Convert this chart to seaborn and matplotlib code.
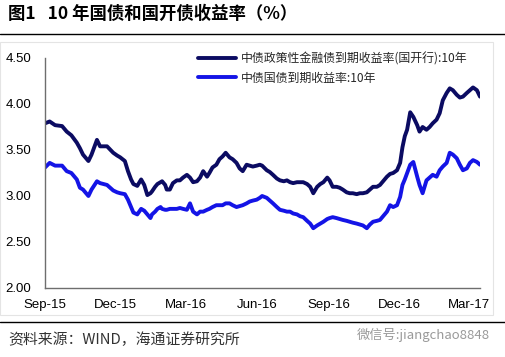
import matplotlib
matplotlib.use("Agg")
import matplotlib.pyplot as plt
from matplotlib.lines import Line2D
from matplotlib.patches import Rectangle
import seaborn as sns
import pandas as pd

dates = [
    "2015-09-01", "2015-09-07", "2015-09-14", "2015-09-23", "2015-09-29", "2015-10-05",
    "2015-10-12", "2015-10-16", "2015-10-20", "2015-10-27", "2015-10-31", "2015-11-07",
    "2015-11-11", "2015-11-20", "2015-11-28", "2015-12-03", "2015-12-07", "2015-12-13",
    "2015-12-17", "2015-12-21", "2015-12-24", "2015-12-29", "2016-01-03", "2016-01-07",
    "2016-01-11", "2016-01-15", "2016-01-17", "2016-01-21", "2016-01-24", "2016-01-28",
    "2016-01-30", "2016-02-03", "2016-02-05", "2016-02-09", "2016-02-13", "2016-02-18",
    "2016-02-22", "2016-02-26", "2016-03-02", "2016-03-06", "2016-03-10", "2016-03-15",
    "2016-03-19", "2016-03-23", "2016-03-28", "2016-03-31", "2016-04-04", "2016-04-09",
    "2016-04-13", "2016-04-17", "2016-04-21", "2016-04-26", "2016-04-30", "2016-05-05",
    "2016-05-09", "2016-05-13", "2016-05-18", "2016-05-22", "2016-05-26", "2016-05-31",
    "2016-06-04", "2016-06-07", "2016-06-13", "2016-06-17", "2016-06-21", "2016-06-26",
    "2016-06-30", "2016-07-05", "2016-07-09", "2016-07-13", "2016-07-17", "2016-07-22",
    "2016-07-26", "2016-07-30", "2016-08-04", "2016-08-08", "2016-08-12", "2016-08-17",
    "2016-08-21", "2016-08-25", "2016-08-30", "2016-09-02", "2016-09-06", "2016-09-11",
    "2016-09-15", "2016-09-19", "2016-09-24", "2016-09-28", "2016-10-02", "2016-10-07",
    "2016-10-11", "2016-10-15", "2016-10-20", "2016-10-24", "2016-10-28", "2016-11-02",
    "2016-11-06", "2016-11-10", "2016-11-15", "2016-11-19", "2016-11-23", "2016-11-28",
    "2016-12-02", "2016-12-05", "2016-12-08", "2016-12-11", "2016-12-15", "2016-12-19",
    "2016-12-24", "2016-12-27", "2016-12-31", "2017-01-05", "2017-01-09", "2017-01-13",
    "2017-01-18", "2017-01-22", "2017-01-26", "2017-01-31", "2017-02-04", "2017-02-08",
    "2017-02-13", "2017-02-17", "2017-02-21", "2017-02-26", "2017-03-02", "2017-03-06",
    "2017-03-11", "2017-03-15",
]

cdb_10y = [
    3.79, 3.81, 3.77, 3.76, 3.70, 3.66, 3.58, 3.52, 3.45, 3.38, 3.45, 3.61,
    3.54, 3.54, 3.47, 3.44, 3.42, 3.38, 3.27, 3.18, 3.13, 3.11, 3.18, 3.12,
    3.01, 3.03, 3.05, 3.10, 3.13, 3.15, 3.16, 3.12, 3.07, 3.07, 3.14, 3.17,
    3.17, 3.20, 3.23, 3.20, 3.15, 3.16, 3.20, 3.27, 3.21, 3.25, 3.31, 3.34,
    3.40, 3.43, 3.47, 3.42, 3.40, 3.36, 3.30, 3.27, 3.34, 3.33, 3.32, 3.33,
    3.34, 3.33, 3.28, 3.26, 3.23, 3.19, 3.17, 3.16, 3.17, 3.15, 3.14, 3.15,
    3.15, 3.15, 3.13, 3.10, 3.03, 3.10, 3.13, 3.15, 3.20, 3.17, 3.10, 3.10,
    3.09, 3.07, 3.04, 3.03, 3.03, 3.02, 3.03, 3.03, 3.04, 3.07, 3.10, 3.10,
    3.12, 3.16, 3.21, 3.24, 3.25, 3.28, 3.36, 3.53, 3.65, 3.72, 3.91, 3.86,
    3.77, 3.70, 3.75, 3.72, 3.75, 3.79, 3.83, 3.90, 4.04, 4.12, 4.17, 4.15,
    4.10, 4.07, 4.08, 4.12, 4.15, 4.18, 4.15, 4.08,
]

cgb_10y = [
    3.31, 3.36, 3.33, 3.33, 3.27, 3.25, 3.18, 3.09, 3.07, 3.00, 3.07, 3.16,
    3.14, 3.12, 3.06, 3.04, 3.03, 3.02, 2.96, 2.88, 2.82, 2.80, 2.86, 2.84,
    2.80, 2.76, 2.80, 2.83, 2.86, 2.88, 2.86, 2.85, 2.85, 2.86, 2.86, 2.86,
    2.87, 2.86, 2.85, 2.92, 2.83, 2.80, 2.83, 2.83, 2.85, 2.86, 2.88, 2.90,
    2.90, 2.90, 2.92, 2.92, 2.90, 2.88, 2.89, 2.90, 2.92, 2.94, 2.95, 2.96,
    2.98, 3.00, 2.98, 2.95, 2.92, 2.88, 2.85, 2.84, 2.83, 2.83, 2.81, 2.80,
    2.78, 2.77, 2.73, 2.70, 2.65, 2.68, 2.70, 2.72, 2.75, 2.76, 2.77, 2.76,
    2.75, 2.74, 2.73, 2.72, 2.71, 2.70, 2.69, 2.68, 2.65, 2.69, 2.72, 2.73,
    2.74, 2.78, 2.83, 2.90, 2.88, 2.90, 2.99, 3.12, 3.18, 3.25, 3.34, 3.37,
    3.21, 3.12, 3.03, 3.17, 3.20, 3.23, 3.21, 3.28, 3.32, 3.36, 3.47, 3.45,
    3.41, 3.34, 3.28, 3.30, 3.36, 3.39, 3.37, 3.34,
]

series_names = ["中债政策性金融债到期收益率(国开行):10年", "中债国债到期收益率:10年"]
series_colors = ["#0b0b62", "#1414e6"]
y_ticks = [2.00, 2.50, 3.00, 3.50, 4.00, 4.50]
x_ticks = ["2015-09-01", "2015-12-01", "2016-03-01", "2016-06-01",
           "2016-09-01", "2016-12-01", "2017-03-01"]
x_tick_labels = ["Sep-15", "Dec-15", "Mar-16", "Jun-16", "Sep-16", "Dec-16", "Mar-17"]

title = "图1   10 年国债和国开债收益率（%）"
source = "资料来源：WIND，海通证券研究所"
watermark = "微信号:jiangchao8848"

df = pd.DataFrame({
    "date": pd.to_datetime(dates * 2),
    "value": cdb_10y + cgb_10y,
    "series": [series_names[0]] * len(dates) + [series_names[1]] * len(dates),
})

sns.set_style("white")
plt.rcParams["font.family"] = ["Liberation Sans", "Noto Sans CJK SC", "DejaVu Sans"]

fig = plt.figure(figsize=(5.06, 3.57), dpi=100)
fig.patch.set_facecolor("white")

# light border of chart area
fig.add_artist(Rectangle((0.0, (357 - 315) / 357), 493 / 506, (315 - 42) / 357,
                         transform=fig.transFigure, fill=False, edgecolor="#e4e4e4", lw=0.8))
# heavy rules
fig.add_artist(Line2D([0, 1], [1 - 34 / 357] * 2, transform=fig.transFigure, color="black", lw=1.0))
fig.add_artist(Line2D([0, 1], [1 - 322 / 357] * 2, transform=fig.transFigure, color="black", lw=1.0))

ax = fig.add_axes([45 / 506, (357 - 288) / 357, 435 / 506, 230 / 357])
sns.lineplot(data=df, x="date", y="value", hue="series", palette=series_colors,
             hue_order=series_names, linewidth=2.8, ax=ax, legend=False)

ax.set_ylim(2.0, 4.5)
ax.set_xlim(pd.Timestamp("2015-09-01"), pd.Timestamp("2017-03-15"))
ax.set_yticks(y_ticks)
ax.set_yticklabels([f"{v:.2f}" for v in y_ticks])
ax.set_xticks(pd.to_datetime(x_ticks))
ax.set_xticklabels(x_tick_labels)
ax.set_xlabel("")
ax.set_ylabel("")
for s in ["top", "right"]:
    ax.spines[s].set_visible(False)
for s in ["left", "bottom"]:
    ax.spines[s].set_color("#6e6e6e")
    ax.spines[s].set_linewidth(1.0)
ax.tick_params(axis="both", direction="out", length=4, width=1.0, color="#6e6e6e",
               labelsize=9.5, labelcolor="black", pad=4)
ax.tick_params(axis="y", pad=6)
ax.set_facecolor("white")

handles = [Line2D([], [], color=c, lw=2.8) for c in series_colors]
leg = ax.legend(handles, series_names, loc="upper left", bbox_to_anchor=(0.352, 1.025),
                frameon=False, handlelength=3.2, handletextpad=0.4, labelspacing=0.5,
                borderaxespad=0, borderpad=0,
                prop={"family": ["Noto Sans CJK SC", "DejaVu Sans"], "size": 8.6})

fig.text(8 / 506, 1 - 14 / 357, title, ha="left", va="center", fontsize=12.5, fontweight="bold",
         family=["Noto Sans CJK SC", "DejaVu Sans"], color="black")
fig.text(8 / 506, 1 - 340 / 357, source, ha="left", va="center", fontsize=10.7,
         family=["Noto Sans CJK SC", "DejaVu Sans"], color="#333333")
fig.text(490 / 506, 1 - 335 / 357, watermark, ha="right", va="center", fontsize=9.5,
         family=["Noto Sans CJK SC", "DejaVu Sans"], color="#9a9a9a")

fig.savefig("out.png", dpi=100, facecolor="white")
